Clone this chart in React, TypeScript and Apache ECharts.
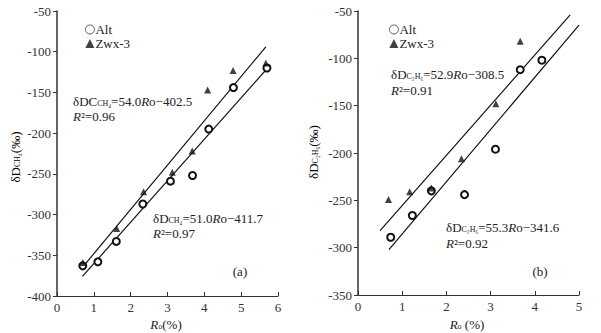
import React, { useEffect, useRef } from "react";
import * as echarts from "echarts";

const altA: [number, number][] = [[0.7, -363], [1.11, -358], [1.61, -333], [2.33, -287], [3.08, -259], [3.68, -252], [4.12, -195], [4.79, -144], [5.7, -120]];
const zwxA: [number, number][] = [[0.7, -359], [1.62, -317], [2.35, -272], [3.13, -248], [3.67, -222], [4.09, -147], [4.78, -123], [5.67, -114]];
const fitZwxA: [number, number][] = [[0.67, -366], [5.67, -94]];
const fitAltA: [number, number][] = [[0.69, -376], [5.72, -120]];

const altB: [number, number][] = [[0.74, -289], [1.23, -266], [1.66, -240], [2.41, -244], [3.11, -196], [3.67, -112], [4.16, -102]];
const zwxB: [number, number][] = [[0.69, -249], [1.17, -241], [1.66, -237], [2.34, -206], [3.12, -148], [3.67, -82]];
const fitZwxB: [number, number][] = [[0.5, -282], [4.8, -54]];
const fitAltB: [number, number][] = [[0.7, -302], [5.0, -65]];

const FONT = "Liberation Serif";
const rich = {
  m: { fontFamily: FONT, fontSize: 13, color: "#222", verticalAlign: "bottom", lineHeight: 15 },
  i: { fontFamily: FONT, fontSize: 13, color: "#222", fontStyle: "italic", verticalAlign: "bottom", lineHeight: 15 },
  s: { fontFamily: FONT, fontSize: 8, color: "#222", verticalAlign: "bottom", lineHeight: 13 },
};

function txt(x: number, y: number, text: string, extra: any = {}) {
  return {
    type: "text",
    x,
    y,
    style: { text, rich, fontFamily: FONT, fontSize: 13, fill: "#222", verticalAlign: "middle", ...extra },
  };
}

export default function App() {
  const ref = useRef<HTMLDivElement>(null);
  useEffect(() => {
    document.body.style.margin = "0";
    const chart = echarts.init(ref.current!, null, { renderer: "svg" });
    const axisLabel = { fontFamily: FONT, fontSize: 13, color: "#333" };
    const xAxisBase = {
      type: "value",
      splitLine: { show: false },
      axisLine: { onZero: false, lineStyle: { color: "#333", width: 1.2 } },
      axisTick: { inside: true, length: 4, lineStyle: { color: "#333" } },
      axisLabel: { ...axisLabel, margin: 5 },
    };
    const yAxisBase = {
      type: "value",
      splitLine: { show: false },
      axisLine: { show: true, onZero: false, lineStyle: { color: "#333", width: 1.5 } },
      axisTick: { show: true, inside: false, length: 4, lineStyle: { color: "#333" } },
      axisLabel: { ...axisLabel, margin: 6 },
    };
    const circle = (name: string, data: any, i: number) => ({
      name, type: "scatter", xAxisIndex: i, yAxisIndex: i, data,
      symbol: "circle", symbolSize: 7,
      itemStyle: { color: "#ffffff", borderColor: "#111111", borderWidth: 2, opacity: 1 }, z: 3,
    });
    const tri = (name: string, data: any, i: number) => ({
      name, type: "scatter", xAxisIndex: i, yAxisIndex: i, data,
      symbol: "triangle", symbolSize: 7, itemStyle: { color: "#111" }, z: 4,
    });
    const line = (data: any, i: number) => ({
      type: "line", xAxisIndex: i, yAxisIndex: i, data, symbol: "none",
      lineStyle: { color: "#111", width: 1.2 }, z: 2, silent: true,
    });
    const legend = (left: number) => ({
      orient: "vertical", left, top: 18, itemWidth: 9, itemHeight: 9, itemGap: 1,
      textStyle: { fontFamily: FONT, fontSize: 13, color: "#222", padding: [0, 0, 0, -4] },
      data: [
        { name: "Alt", icon: "circle", itemStyle: { color: "#ffffff", borderColor: "#333333", borderWidth: 0.8 } },
        { name: "Zwx-3", icon: "triangle", itemStyle: { color: "#111" } },
      ],
      selectedMode: false,
    });
    chart.setOption({
      animation: false,
      grid: [
        { left: 57, top: 11, width: 221, height: 285 },
        { left: 358, top: 11, width: 221, height: 284 },
      ],
      xAxis: [
        { ...xAxisBase, gridIndex: 0, min: 0, max: 6, interval: 1 },
        { ...xAxisBase, gridIndex: 1, min: 0, max: 5, interval: 1 },
      ],
      yAxis: [
        { ...yAxisBase, gridIndex: 0, min: -400, max: -50, interval: 50 },
        { ...yAxisBase, gridIndex: 1, min: -350, max: -50, interval: 50 },
      ],
      legend: [legend(80), legend(384)],
      series: [
        line(fitZwxA, 0), line(fitAltA, 0),
        circle("Alt", altA, 0), tri("Zwx-3", zwxA, 0),
        line(fitZwxB, 1), line(fitAltB, 1),
        circle("Alt", altB, 1), tri("Zwx-3", zwxB, 1),
      ],
      graphic: [
        txt(73, 100, "{m|δDC}{s|CH₄}{m|=54.0}{i|R}{m|o−402.5}"),
        txt(73, 115, "{i|R}{m|²=0.96}"),
        txt(153, 217, "{m|δD}{s|CH₄}{m|=51.0}{i|R}{m|o−411.7}"),
        txt(153, 232, "{i|R}{m|²=0.97}"),
        txt(391, 73, "{m|δD}{s|C₂H₆}{m|=52.9}{i|R}{m|o−308.5}"),
        txt(391, 89, "{i|R}{m|²=0.91}"),
        txt(446, 226, "{m|δD}{s|C₂H₆}{m|=55.3}{i|R}{m|o−341.6}"),
        txt(446, 242, "{i|R}{m|²=0.92}"),
        txt(240, 270, "{m|(a)}", { align: "center" }),
        txt(540, 270, "{m|(b)}", { align: "center" }),
        txt(166, 323, "{i|R}{s|o}{m|(%)}", { align: "center" }),
        txt(467, 323, "{i|R}{s|o}{m| (%)}", { align: "center" }),
        { type: "text", x: 14, y: 157, rotation: Math.PI / 2,
          style: { text: "{m|δD}{s|CH₄}{m|(‰)}", rich, align: "center", verticalAlign: "middle" } },
        { type: "text", x: 312, y: 152, rotation: Math.PI / 2,
          style: { text: "{m|δD}{s|C₂H₆}{m|(‰)}", rich, align: "center", verticalAlign: "middle" } },
      ],
    });
    return () => chart.dispose();
  }, []);
  return <div ref={ref} style={{ width: 601, height: 333 }} />;
}
